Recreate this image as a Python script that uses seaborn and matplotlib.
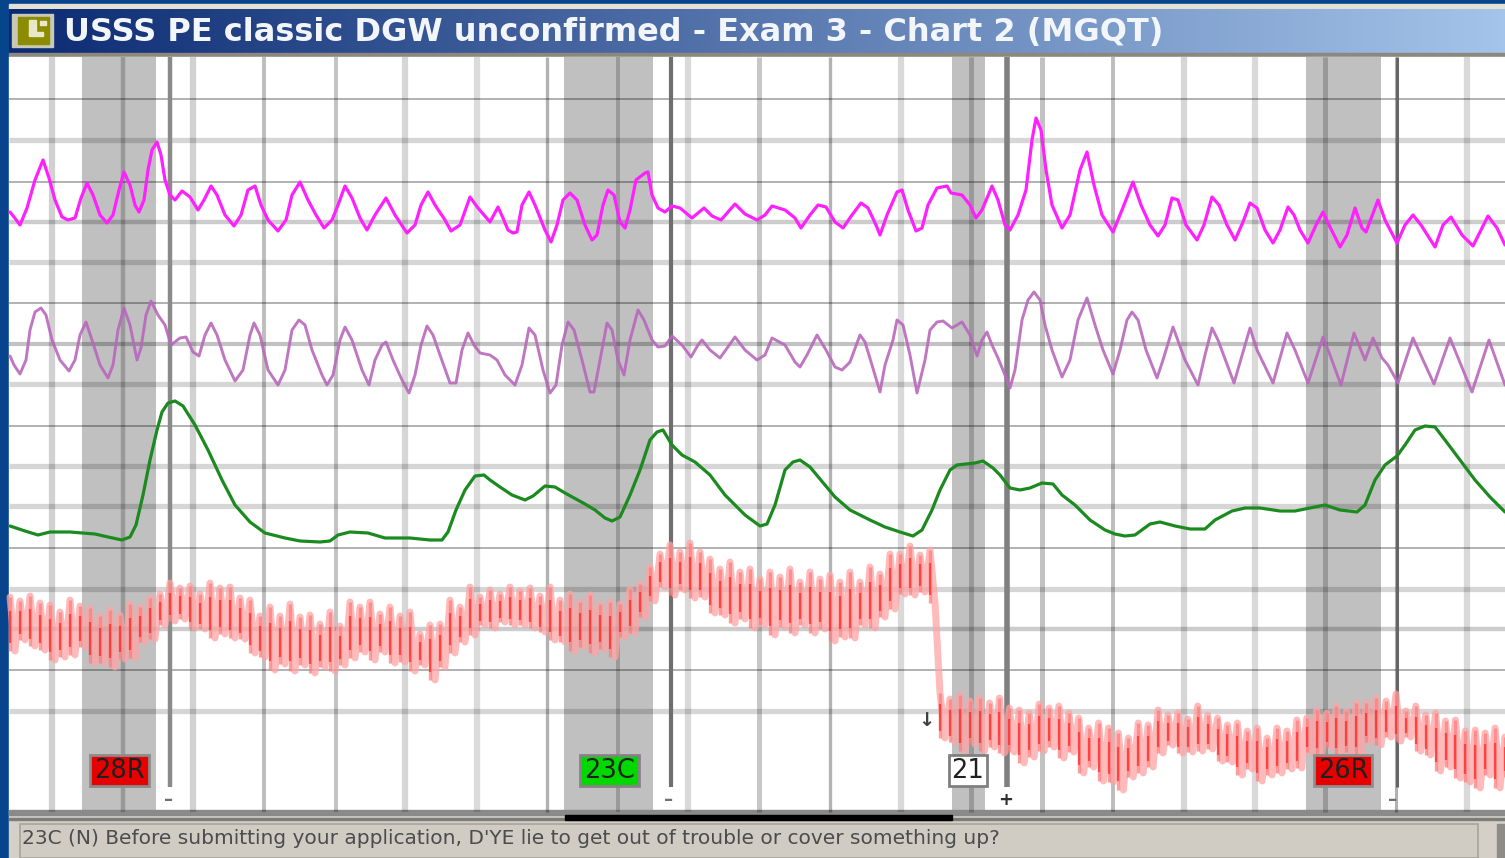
#! /usr/bin/env python3
"""Polygraph chart screenshot: four traces over a ruled grid, in pixel-like chart units."""

import numpy as np
import matplotlib
matplotlib.use('Agg')
import matplotlib.pyplot as plt
from matplotlib.patches import Rectangle
import seaborn as sns

TITLE = "USSS PE classic DGW unconfirmed - Exam 3 - Chart 2 (MGQT)"
QUESTION = "23C (N) Before submitting your application, D'YE lie to get out of trouble or cover something up?"

# Upper pneumo
pneumo1_x = [10,14,20,27,35,43,49,55,62,68,75,81,87,93,100,107,113,119,124,130,135,139,144,148,152,157,161,165,170,175,182,190,198,204,211,217,225,234,241,248,255,261,268,278,286,292,300,308,316,324,332,338,345,352,360,367,375,386,395,407,415,421,428,435,445,451,460,470,478,490,498,503,508,513,517,522,529,535,545,551,557,563,570,577,585,592,597,603,608,614,620,625,630,636,645,648,652,658,665,672,680,692,704,712,721,735,745,757,765,772,785,795,801,810,818,826,835,843,852,861,868,876,880,887,897,902,908,916,922,928,937,947,951,962,970,976,982,992,998,1005,1010,1018,1026,1032,1036,1041,1046,1052,1062,1070,1080,1087,1094,1102,1113,1122,1133,1141,1150,1158,1165,1172,1178,1186,1197,1204,1212,1219,1227,1235,1243,1250,1257,1265,1273,1280,1288,1294,1300,1308,1316,1323,1329,1340,1347,1355,1362,1366,1378,1385,1397,1405,1413,1421,1435,1443,1451,1462,1473,1480,1488,1497,1505]
pneumo1_y = [212,217,225,208,180,160,178,200,217,220,218,198,183,195,215,223,215,190,172,185,205,212,200,170,150,142,155,180,195,200,191,197,210,200,186,195,215,226,215,190,186,205,220,231,220,195,182,200,215,228,220,205,186,198,218,230,215,198,215,233,225,205,192,205,220,231,225,197,208,222,207,218,230,233,232,205,192,205,230,242,225,200,193,200,225,240,235,205,190,195,222,228,210,180,173,172,195,208,212,206,208,218,208,216,220,204,214,220,215,206,210,218,228,215,205,207,222,228,215,203,208,225,235,215,192,190,210,231,228,205,188,186,193,195,205,218,210,186,200,225,230,215,190,140,118,130,170,205,228,215,170,152,185,215,232,210,182,205,225,236,225,198,200,225,240,225,197,205,225,240,222,203,208,230,243,230,207,215,230,243,225,212,225,247,235,208,228,232,200,220,243,225,215,225,247,225,217,235,246,232,216,228,245]

# Lower pneumo
pneumo2_x = [10,14,20,26,30,35,41,46,52,60,69,75,80,86,92,100,108,113,118,124,130,137,141,146,151,158,165,171,180,186,193,199,205,211,217,225,235,243,250,254,260,268,278,285,292,299,305,312,322,327,333,340,345,352,362,369,375,382,386,393,402,409,415,421,427,433,440,450,456,462,468,474,480,490,497,505,515,522,529,535,543,550,556,562,568,574,582,590,594,600,607,612,618,624,630,638,644,652,658,665,672,682,691,698,702,710,720,735,745,757,765,772,785,795,800,807,817,826,835,842,850,860,865,872,880,885,893,897,903,910,917,925,930,937,943,952,962,970,977,982,987,992,998,1005,1010,1015,1022,1028,1034,1040,1045,1052,1062,1070,1078,1087,1095,1103,1113,1120,1127,1132,1138,1146,1157,1163,1173,1185,1198,1205,1212,1218,1234,1250,1257,1273,1287,1295,1308,1323,1330,1341,1354,1365,1373,1382,1388,1398,1413,1434,1450,1472,1489,1505]
pneumo2_y = [356,365,374,360,330,312,308,315,340,360,371,360,335,322,340,365,378,365,330,308,325,360,348,315,301,315,325,345,338,337,352,356,335,323,335,360,381,370,335,323,335,370,385,370,330,320,325,350,375,385,375,340,327,340,370,385,360,345,342,360,380,393,375,345,326,335,355,383,383,350,333,345,353,355,360,375,385,365,328,335,370,393,385,345,322,330,360,392,392,360,323,330,360,375,340,310,320,340,347,346,336,345,357,345,340,350,358,337,350,360,355,338,345,362,367,355,335,350,367,370,362,335,342,365,392,365,340,320,325,355,393,360,330,322,321,328,322,335,356,340,332,345,358,375,388,370,320,300,292,300,325,350,377,360,320,298,325,350,374,350,320,312,320,350,378,360,327,360,385,355,328,340,383,328,350,383,333,350,383,337,355,385,333,360,338,358,365,383,338,384,338,392,340,385]

# EDA
eda_x = [10,25,38,50,70,95,108,122,130,136,143,150,157,162,168,175,183,195,208,222,235,250,265,285,300,320,330,338,350,368,385,410,430,442,448,456,465,475,484,490,500,512,525,533,545,555,565,585,595,605,612,620,630,640,650,657,663,672,682,695,710,725,745,760,767,775,785,793,800,810,825,835,850,870,885,900,913,922,932,940,950,957,975,983,993,1000,1010,1020,1030,1042,1053,1062,1075,1090,1105,1115,1125,1135,1150,1160,1175,1190,1205,1215,1232,1245,1260,1280,1295,1310,1325,1340,1357,1365,1375,1385,1397,1405,1415,1425,1435,1445,1460,1475,1490,1505]
eda_y = [526,531,535,532,532,534,537,540,537,525,495,460,430,412,403,401,406,425,450,480,505,522,533,538,541,542,541,535,532,533,538,538,540,540,532,510,490,476,475,480,487,495,500,496,486,487,493,504,510,518,521,517,495,470,440,432,430,445,455,462,475,495,515,526,524,505,470,462,460,467,485,497,510,520,527,532,536,530,510,490,470,465,463,461,468,475,488,490,488,483,484,495,505,520,530,534,536,535,524,522,526,529,529,520,511,508,508,511,511,508,505,510,512,505,480,465,456,445,430,426,427,440,460,480,497,512]

# Cardio, upper and lower edge per beat, before and after the cuff drop
cardio1_top = [597,601,596,603,605,612,600,606,608,616,610,615,604,607,598,594,583,588,586,594,583,588,587,598,600,616,607,616,604,617,615,624,612,626,602,607,602,614,607,616,612,634,625,624,600,607,587,597,590,594,587,591,588,596,587,600,594,602,595,604,602,604,589,584,567,554,545,552,543,552,559,569,562,572,569,579,572,577,569,582,572,579,575,582,572,582,567,574,554,554,546,555,550]
cardio1_bot = [651,640,646,650,660,657,655,647,663,663,667,659,658,642,639,625,621,619,628,629,638,634,638,639,653,657,670,664,671,665,673,667,671,665,658,652,660,652,663,662,671,665,680,667,653,642,635,625,628,622,625,625,628,632,640,642,651,647,653,649,657,637,633,617,601,587,595,590,598,597,613,615,623,619,628,625,635,627,633,625,633,629,641,637,638,625,628,617,609,594,595,592,603]
cardio2_top = [693,699,695,701,698,703,698,708,710,713,704,708,706,713,718,728,723,728,733,738,723,725,710,715,713,719,706,715,718,725,723,731,728,738,728,731,720,718,710,713,706,711,703,703,698,701,694,711,706,715,713,721,720,731,730,733,728,737]
cardio2_bot = [738,742,751,744,751,747,753,752,763,757,751,747,758,752,773,767,781,782,790,777,773,767,753,745,753,752,751,749,761,762,775,769,781,775,773,769,768,752,755,747,755,752,755,742,745,737,741,737,751,755,771,767,778,782,788,775,788,777]

grid_y = [99,140,182,222,262,303,344,384,426,466,506,548,589,629,670,711]
grid_y_lw = [1.3,3.8,1.3,3.2,3.8,1.3,3.0,3.8,1.3,3.8,3.8,1.3,3.8,3.2,1.3,3.8]
grid_y_alpha = [.33,.16,.33,.2,.16,.33,.24,.16,.33,.16,.16,.33,.16,.2,.33,.16]
grid_x = [52,123,193,264,336,405,477,547,618,688,759,830,901,971,1042,1113,1184,1255,1325,1396,1467]
grid_x_lw = [4.5,3.2,4.5,2.8,2.8,4.5,4.5,2.4,2.8,4.5,3.6,2.4,4.5,3.6,3.6,2.8,4.5,4.5,3.6,2.2,4.5]
grid_x_alpha = [.18,.2,.18,.26,.24,.16,.14,.3,.2,.15,.22,.3,.15,.2,.24,.26,.16,.15,.2,.3,.15]

question_spans = [(82,156),(564,653),(952,985),(1306,1381)]
event_x = [170,671,1007,1397]
event_lw = [3.2,3.0,4.0,2.2]
event_colors = ['#8a8a8a','#6e6e6e','#808080','#666666']
label_texts = ['28R','23C','21','26R']
label_x = [(90,149),(580,639),(949,987),(1314,1372)]
label_colors = ['#e60000','#00d800','#ffffff','#e60000']
label_edges = ['#8c8c8c','#8c7f8c','#808080','#8c9090']
sign_texts = ['–','–','+','–']
sign_x = [169,669,1006,1393]

CONFIG = {
    'dpi': 100,
    'figure_size': (15.05, 8.58),
    'title_font': 'DejaVu Sans',
}


def add_gradient(ax, left, right, top, bottom, start, end):
    """Horizontal colour ramp used for the window title bar"""
    c0 = np.array(matplotlib.colors.to_rgb(start))
    c1 = np.array(matplotlib.colors.to_rgb(end))
    ramp = np.linspace(0, 1, 256)[None, :, None]
    ax.imshow(c0 + (c1 - c0) * ramp, extent=(left, right, bottom, top), aspect='auto', zorder=1)


def draw_trace(ax, x, y, color, lw, alpha=1.0, zorder=5):
    sns.lineplot(x=x, y=y, sort=False, estimator=None, color=color, lw=lw, alpha=alpha,
                 solid_joinstyle='round', ax=ax, zorder=zorder, legend=False)


def zigzag(tops, bots, start, stop):
    """Join the beat edges of the cardio trace into one line"""
    xs = np.linspace(start, stop, len(tops))
    step = xs[1] - xs[0]
    x, y = [], []
    for xi, t, b in zip(xs, tops, bots):
        x += [xi, xi + step / 2]
        y += [t, b]
    return x, y


def draw_beats(ax, tops, bots, start, stop):
    """Pale full stroke for each beat with a saturated lower part"""
    xs = np.linspace(start, stop, len(tops))
    tops = np.array(tops)
    bots = np.array(bots)
    ax.vlines(xs, tops, bots, color='#ff7e7e', lw=2.4, alpha=.75, zorder=6)
    ax.vlines(xs, tops + (bots - tops) * .25, tops + (bots - tops) * .85, color='#ff1010', lw=1.6, alpha=.6, zorder=6)


def main():
    sns.set_theme(style='white')
    fig = plt.figure(figsize=CONFIG['figure_size'], dpi=CONFIG['dpi'], facecolor='#06458c')
    ax = fig.add_axes([0, 0, 1, 1])
    ax.set_facecolor('#06458c')

    # window frame
    ax.add_patch(Rectangle((9, 4), 1496, 5, color='#e4e0d6', zorder=1))
    add_gradient(ax, 9, 1505, 9, 53, '#0b2a72', '#a4c4ea')
    ax.add_patch(Rectangle((9, 53), 1496, 4, color='#8c8880', zorder=1))
    ax.add_patch(Rectangle((9, 57), 1496, 758, color='white', zorder=1))
    ax.add_patch(Rectangle((9, 810), 1496, 5, color='#8a8a8a', zorder=3))
    ax.add_patch(Rectangle((9, 815), 1496, 43, color='#d4d0c8', zorder=1))
    ax.add_patch(Rectangle((9, 818), 1496, 2, color='#7c7c78', zorder=2))
    ax.add_patch(Rectangle((565, 815), 387, 5, color='black', zorder=4))
    ax.add_patch(Rectangle((20, 824), 1458, 34, facecolor='#d0ccc4', edgecolor='#a8a49c', lw=1.2, zorder=2))
    ax.add_patch(Rectangle((1497, 824), 8, 34, color='#8e8c88', zorder=2))

    # title bar icon
    ax.add_patch(Rectangle((12, 14), 41, 33, color='#c8c8b8', zorder=2))
    ax.add_patch(Rectangle((18, 17), 31, 27, color='#8c8c00', zorder=3))
    ax.add_patch(Rectangle((29, 20), 7, 15, color='#e8e8c8', zorder=4))
    ax.add_patch(Rectangle((29, 32), 14, 4, color='#e8e8c8', zorder=4))
    ax.add_patch(Rectangle((40, 21), 6, 4, color='#e8e8c8', zorder=4))
    ax.text(64, 32, TITLE, color='#f2f5fa', fontsize=23.0, fontweight='bold',
            family=CONFIG['title_font'], va='center', ha='left', zorder=5)

    # shaded question windows and grid
    for left, right in question_spans:
        ax.axvspan(left, right, ymin=1 - 812 / 858, ymax=1 - 57 / 858, color='#c0c0c0', lw=0, zorder=2)
    for y, lw, a in zip(grid_y, grid_y_lw, grid_y_alpha):
        ax.hlines(y, 9, 1505, color='black', lw=lw, alpha=a, zorder=3)
    for x, lw, a in zip(grid_x, grid_x_lw, grid_x_alpha):
        ax.vlines(x, 57, 812, color='black', lw=lw, alpha=a, zorder=3)
    for x, lw, c in zip(event_x, event_lw, event_colors):
        ax.vlines(x, 57, 787, color=c, lw=lw, zorder=4)

    # traces
    draw_trace(ax, pneumo1_x, pneumo1_y, '#ff20ff', 2.3)
    draw_trace(ax, pneumo2_x, pneumo2_y, '#b868bc', 2.1, alpha=.9)
    draw_trace(ax, eda_x, eda_y, '#1b8a1f', 2.3)

    x1, y1 = zigzag(cardio1_top, cardio1_bot, 10, 930)
    x2, y2 = zigzag(cardio2_top, cardio2_bot, 940, 1505)
    draw_trace(ax, x1 + x2, y1 + y2, '#ffa4a4', 5.0, alpha=.75, zorder=5)
    draw_beats(ax, cardio1_top, cardio1_bot, 10, 930)
    draw_beats(ax, cardio2_top, cardio2_bot, 940, 1505)

    # question labels
    for text, (left, right), fc, ec in zip(label_texts, label_x, label_colors, label_edges):
        ax.add_patch(Rectangle((left, 755), right - left, 31, facecolor=fc, edgecolor=ec, lw=2, zorder=7))
        ax.text((left + right) / 2, 771, text, color='#202020', fontsize=18.5, family='DejaVu Sans',
                ha='center', va='center', zorder=8)
    for text, x in zip(sign_texts, sign_x):
        ax.text(x, 800, text, color='#303030' if text == '+' else '#707070', fontsize=13, fontweight='bold',
                ha='center', va='center', zorder=8)
    ax.text(926, 721, '↓', color='#404040', fontsize=14, fontweight='bold', ha='center', va='center', zorder=8)

    ax.text(22, 838, QUESTION, color='#4c4c4c', fontsize=14.5, family='DejaVu Sans',
            ha='left', va='center', zorder=5)

    ax.set_xlim(0, 1505)
    ax.set_ylim(858, 0)
    ax.axis('off')
    fig.savefig('out.png', dpi=CONFIG['dpi'], facecolor=fig.get_facecolor())


if __name__ == '__main__':
    main()
